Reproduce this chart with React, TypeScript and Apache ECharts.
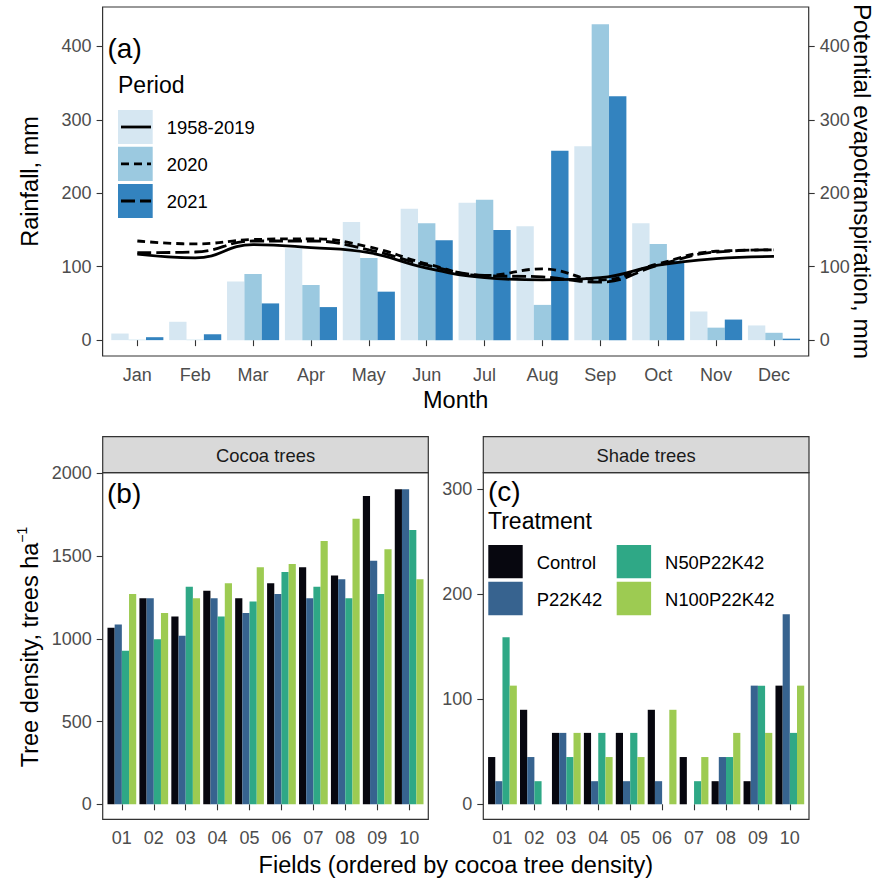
import React, { useEffect, useRef } from 'react';
import * as echarts from 'echarts';

const FONT = "'Liberation Sans', Arial, sans-serif";

// ---- Panel (a) data ----
const months = ['Jan', 'Feb', 'Mar', 'Apr', 'May', 'Jun', 'Jul', 'Aug', 'Sep', 'Oct', 'Nov', 'Dec'];
const periods = ['1958-2019', '2020', '2021'];
const rain1958 = [9, 25, 80, 125, 161, 179, 187, 155, 264, 159, 39, 20];
const rain2020 = [0.5, 0.5, 90, 75, 112, 159, 191, 48, 430, 131, 17, 10];
const rain2021 = [4, 8, 50, 45, 66, 136, 150, 258, 332, 108, 28, 2];
const pet1958 = [117, 112, 130, 126, 119, 98, 85, 82, 85, 102, 111, 114];
const pet2020 = [135, 131, 137, 138, 127, 104, 88, 97, 82, 104, 121, 123];
const pet2021 = [119, 120, 135, 135, 123, 102, 88, 86, 79, 102, 120, 123];
const rainTicks = [0, 100, 200, 300, 400];

// ---- Panels (b), (c) data ----
const fields = ['01', '02', '03', '04', '05', '06', '07', '08', '09', '10'];
const treatments = ['Control', 'P22K42', 'N50P22K42', 'N100P22K42'];
const cocoaControl = [1067, 1245, 1134, 1291, 1245, 1335, 1432, 1382, 1863, 1903];
const cocoaP = [1086, 1245, 1019, 1245, 1156, 1271, 1245, 1360, 1472, 1903];
const cocoaN50 = [928, 997, 1315, 1134, 1225, 1404, 1315, 1245, 1271, 1658];
const cocoaN100 = [1271, 1156, 1245, 1335, 1432, 1452, 1591, 1726, 1541, 1360];
const shadeControl = [45, 90, 68, 68, 68, 90, 45, 22, 22, 113];
const shadeP = [22, 45, 68, 22, 22, 22, 0, 45, 113, 181];
const shadeN50 = [159, 22, 45, 68, 68, 0, 22, 45, 113, 68];
const shadeN100 = [113, 0, 68, 45, 45, 90, 45, 68, 68, 113];
const cocoaTicks = [0, 500, 1000, 1500, 2000];
const shadeTicks = [0, 100, 200, 300];

const blues = ['#d6e7f2', '#9bc9e0', '#3383bf'];
const treatColors = ['#07070f', '#37638f', '#2fa886', '#9dcb52'];
const lineDash: any[] = ['solid', [8, 5], [14, 5]];

const TICK = '#333333';
const LABEL = '#4d4d4d';

function txt(x: number, y: number, text: string, size: number, extra: any = {}) {
  return {
    type: 'text',
    x,
    y,
    rotation: extra.rotation || 0,
    z: 120,
    style: {
      text,
      x: 0,
      y: 0,
      fill: extra.fill || '#000',
      font: `${size}px ${FONT}`,
      fontSize: size,
      fontFamily: FONT,
      align: extra.align || 'left',
      verticalAlign: 'middle',
      rich: extra.rich,
    },
  };
}

function box(x1: number, y1: number, x2: number, y2: number, fill: string, stroke: string, lw = 1.2) {
  return {
    type: 'rect',
    z: 110,
    shape: { x: x1, y: y1, width: x2 - x1, height: y2 - y1 },
    style: { fill, stroke, lineWidth: lw },
  };
}

function valueAxis(gridIndex: number, min: number, max: number, ticks: number[], position: string, offset: number) {
  return {
    type: 'value',
    gridIndex,
    min,
    max,
    position,
    offset,
    splitLine: { show: false },
    axisLine: { show: false },
    axisTick: { show: true, length: 6, customValues: ticks, lineStyle: { color: TICK, width: 1.1 } },
    axisLabel: {
      customValues: ticks,
      margin: 11,
      color: LABEL,
      fontSize: 18,
      fontFamily: FONT,
      formatter: (v: number) => String(v),
    },
  };
}

function catAxis(gridIndex: number, data: string[]) {
  return {
    type: 'category',
    gridIndex,
    data,
    axisLine: { show: false },
    axisTick: { show: true, alignWithLabel: true, length: 6, lineStyle: { color: TICK, width: 1.1 } },
    axisLabel: { margin: 10, color: LABEL, fontSize: 18, fontFamily: FONT },
  };
}

export default function App() {
  const ref = useRef<HTMLDivElement>(null);
  useEffect(() => {
    const chart = echarts.init(ref.current!, null, { renderer: 'svg' });

    // panel geometry
    const aL = 102.6, aR = 808.7, aT = 7, aB = 356;
    const aUnit = (aR - aL) / 12.2;
    const bL = 102.7, bR = 428.3, pT = 472.7, pB = 819.3;
    const bUnit = (bR - bL) / 10.2;
    const cL = 483.3, cR = 809;
    const cUnit = (cR - cL) / 10.2;
    const sT = 436.7;

    const rainSeries = [rain1958, rain2020, rain2021].map((d, i) => ({
      type: 'bar',
      name: periods[i],
      xAxisIndex: 0,
      yAxisIndex: 0,
      data: d,
      barWidth: '30%',
      barGap: '0%',
      itemStyle: { color: blues[i] },
      z: 2,
    }));
    const petSeries = [pet1958, pet2020, pet2021].map((d, i) => ({
      type: 'line',
      name: periods[i] + ' PET',
      xAxisIndex: 0,
      yAxisIndex: 1,
      data: d,
      smooth: 0.45,
      symbol: 'none',
      showSymbol: false,
      lineStyle: { color: '#000', width: 2.8, type: lineDash[i] },
      z: 5,
    }));
    const cocoaSeries = [cocoaControl, cocoaP, cocoaN50, cocoaN100].map((d, i) => ({
      type: 'bar',
      name: treatments[i],
      xAxisIndex: 1,
      yAxisIndex: 2,
      data: d,
      barWidth: '22.5%',
      barGap: '0%',
      itemStyle: { color: treatColors[i] },
    }));
    const shadeSeries = [shadeControl, shadeP, shadeN50, shadeN100].map((d, i) => ({
      type: 'bar',
      name: treatments[i] + ' shade',
      xAxisIndex: 2,
      yAxisIndex: 3,
      data: d,
      barWidth: '22.5%',
      barGap: '0%',
      itemStyle: { color: treatColors[i] },
    }));

    // legends
    const legA: any[] = [txt(118, 85, 'Period', 23)];
    const rowsA = [[110, 144], [146.7, 181], [184, 218]];
    rowsA.forEach((r, i) => {
      legA.push({
        type: 'rect', z: 110,
        shape: { x: 118, y: r[0], width: 34.7, height: r[1] - r[0] },
        style: { fill: blues[i], stroke: 'none' },
      });
      const cy = (r[0] + r[1]) / 2;
      legA.push({
        type: 'line', z: 111,
        shape: { x1: 121, y1: cy, x2: 151, y2: cy },
        style: { stroke: '#000', lineWidth: 2.8, lineDash: lineDash[i] === 'solid' ? null : lineDash[i] },
      });
      legA.push(txt(166.7, cy + 0.5, periods[i], 18.4));
    });

    const legC: any[] = [txt(488, 520.7, 'Treatment', 23)];
    const colsC = [488.3, 616.7];
    const rowsC = [[545, 578.3], [581.7, 615.3]];
    treatments.forEach((t, i) => {
      const col = Math.floor(i / 2), row = i % 2;
      legC.push({
        type: 'rect', z: 110,
        shape: { x: colsC[col], y: rowsC[row][0], width: 34.4, height: rowsC[row][1] - rowsC[row][0] },
        style: { fill: treatColors[i], stroke: 'none' },
      });
      legC.push(txt(colsC[col] + 48.4, (rowsC[row][0] + rowsC[row][1]) / 2 + 0.5, t, 18.4));
    });

    const option: any = {
      animation: false,
      backgroundColor: '#ffffff',
      textStyle: { fontFamily: FONT },
      grid: [
        { left: aL + 0.1 * aUnit, width: 12 * aUnit, top: aT, height: aB - aT },
        { left: bL + 0.1 * bUnit, width: 10 * bUnit, top: pT, height: pB - pT },
        { left: cL + 0.1 * cUnit, width: 10 * cUnit, top: pT, height: pB - pT },
      ],
      xAxis: [catAxis(0, months), catAxis(1, fields), catAxis(2, fields)],
      yAxis: [
        valueAxis(0, -21.6, 453.6, rainTicks, 'left', 0.1 * aUnit),
        valueAxis(0, -21.6, 453.6, rainTicks, 'right', 0.1 * aUnit),
        valueAxis(1, -90.6, 2003.6, cocoaTicks, 'left', 0.1 * bUnit),
        valueAxis(2, -14.3, 315.8, shadeTicks, 'left', 0.1 * cUnit),
      ],
      series: [...rainSeries, ...petSeries, ...cocoaSeries, ...shadeSeries],
      graphic: [
        // panel borders
        box(aL, aT, aR, aB, 'transparent', TICK),
        box(bL, pT, bR, pB, 'transparent', TICK),
        box(cL, pT, cR, pB, 'transparent', TICK),
        // strips
        box(bL, sT, bR, pT, '#d9d9d9', TICK),
        box(cL, sT, cR, pT, '#d9d9d9', TICK),
        txt((bL + bR) / 2, 455.5, 'Cocoa trees', 18.4, { align: 'center', fill: '#1a1a1a' }),
        txt((cL + cR) / 2, 455.5, 'Shade trees', 18.4, { align: 'center', fill: '#1a1a1a' }),
        // panel tags
        txt(107.5, 48.5, '(a)', 28),
        txt(107, 493, '(b)', 28),
        txt(488, 491.5, '(c)', 28),
        // axis titles
        txt(30, (aT + aB) / 2, 'Rainfall, mm', 23.5, { align: 'center', rotation: Math.PI / 2 }),
        txt(862, (aT + aB) / 2, 'Potential evapotranspiration, mm', 24.3, { align: 'center', rotation: -Math.PI / 2 }),
        txt((aL + aR) / 2, 400, 'Month', 23.5, { align: 'center' }),
        txt(30, 647, '{n|Tree density, trees ha}{s|−1}', 23.5, {
          align: 'center',
          rotation: Math.PI / 2,
          rich: {
            n: { fontSize: 23.5, fontFamily: FONT, lineHeight: 30, fill: '#000' },
            s: { fontSize: 14, fontFamily: FONT, lineHeight: 14, verticalAlign: 'top', padding: [0, 0, 14, 0], fill: '#000' },
          },
        }),
        txt((bL + cR) / 2, 865, 'Fields (ordered by cocoa tree density)', 23.5, { align: 'center' }),
        ...legA,
        ...legC,
      ],
    };
    chart.setOption(option);
    return () => chart.dispose();
  }, []);
  return (
    <div
      ref={ref}
      style={{ position: 'fixed', left: 0, top: 0, width: 880, height: 881, background: '#fff' }}
    />
  );
}
